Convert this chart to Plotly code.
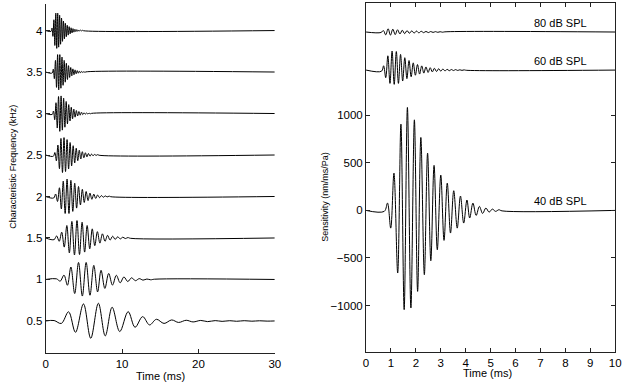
import plotly.graph_objects as go

# ---- left panel: impulse responses by characteristic frequency (kHz) ----
# each trace: times (ms) of successive peaks/troughs and their heights (in kHz units)
cf_levels = [0.5, 1, 1.5, 2, 2.5, 3, 3.5, 4]
cf_labels = ["0.5", "1", "1.5", "2", "2.5", "3", "3.5", "4"]

t_4k = [0.70, 0.825, 0.95, 1.075, 1.20, 1.325, 1.45, 1.575, 1.70, 1.825, 1.95, 2.075,
        2.20, 2.325, 2.45, 2.575, 2.70, 2.825, 2.95, 3.075, 3.20, 3.325, 3.45, 3.575,
        3.70, 3.825, 3.95, 4.075, 4.20, 4.325, 4.45, 4.575, 4.70, 4.825, 4.95]
v_4k = [-0.01, 0.03, -0.07, 0.13, -0.18, 0.21, -0.215, 0.21, -0.20, 0.185, -0.165, 0.15,
        -0.13, 0.115, -0.10, 0.088, -0.075, 0.064, -0.055, 0.047, -0.04, 0.033, -0.028, 0.023,
        -0.019, 0.016, -0.013, 0.011, -0.009, 0.007, -0.006, 0.005, -0.004, 0.003, -0.002]

t_3k5 = [0.85, 0.993, 1.136, 1.279, 1.421, 1.564, 1.707, 1.85, 1.993, 2.136, 2.279, 2.421,
         2.564, 2.707, 2.85, 2.993, 3.136, 3.279, 3.421, 3.564, 3.707, 3.85, 3.993, 4.136,
         4.279, 4.421, 4.564, 4.707, 4.85, 4.993, 5.136, 5.279]
v_3k5 = [-0.012, 0.035, -0.08, 0.14, -0.185, 0.21, -0.215, 0.21, -0.195, 0.18, -0.16, 0.14,
         -0.122, 0.105, -0.09, 0.077, -0.065, 0.055, -0.046, 0.038, -0.032, 0.026, -0.021, 0.017,
         -0.014, 0.011, -0.009, 0.007, -0.005, 0.004, -0.003, 0.002]

t_3k = [0.85, 1.017, 1.183, 1.35, 1.517, 1.683, 1.85, 2.017, 2.183, 2.35, 2.517, 2.683,
        2.85, 3.017, 3.183, 3.35, 3.517, 3.683, 3.85, 4.017, 4.183, 4.35, 4.517, 4.683,
        4.85, 5.017, 5.183, 5.35, 5.517, 5.683, 5.85, 6.017]
v_3k = [-0.012, 0.03, -0.075, 0.13, -0.175, 0.205, -0.215, 0.212, -0.20, 0.185, -0.165, 0.145,
        -0.125, 0.107, -0.09, 0.076, -0.064, 0.053, -0.044, 0.036, -0.03, 0.024, -0.02, 0.016,
        -0.013, 0.01, -0.008, 0.006, -0.005, 0.004, -0.003, 0.002]

t_2k5 = [1.0, 1.2, 1.4, 1.6, 1.8, 2.0, 2.2, 2.4, 2.6, 2.8, 3.0, 3.2, 3.4, 3.6, 3.8, 4.0,
         4.2, 4.4, 4.6, 4.8, 5.0, 5.2, 5.4, 5.6, 5.8, 6.0, 6.2, 6.4, 6.6, 6.8, 7.0]
v_2k5 = [-0.015, 0.03, -0.07, 0.12, -0.165, 0.20, -0.212, 0.21, -0.20, 0.186, -0.168, 0.15,
         -0.13, 0.112, -0.096, 0.082, -0.069, 0.058, -0.048, 0.04, -0.033, 0.027, -0.022, 0.018,
         -0.014, 0.011, -0.009, 0.007, -0.005, 0.004, -0.003]

t_2k = [1.05, 1.3, 1.55, 1.8, 2.05, 2.3, 2.55, 2.8, 3.05, 3.3, 3.55, 3.8, 4.05, 4.3, 4.55,
        4.8, 5.05, 5.3, 5.55, 5.8, 6.05, 6.3, 6.55, 6.8, 7.05, 7.3, 7.55, 7.8, 8.05, 8.3, 8.55]
v_2k = [-0.018, 0.03, -0.06, 0.105, -0.15, 0.185, -0.205, 0.21, -0.205, 0.195, -0.18, 0.16,
        -0.14, 0.12, -0.102, 0.086, -0.072, 0.06, -0.05, 0.041, -0.034, 0.028, -0.023, 0.018,
        -0.014, 0.011, -0.009, 0.007, -0.005, 0.004, -0.003]

t_1k5 = [1.1, 1.43, 1.77, 2.1, 2.43, 2.77, 3.1, 3.43, 3.77, 4.1, 4.43, 4.77, 5.1, 5.43, 5.77,
         6.1, 6.43, 6.77, 7.1, 7.43, 7.77, 8.1, 8.43, 8.77, 9.1, 9.43, 9.77, 10.1, 10.43,
         10.77, 11.1]
v_1k5 = [-0.02, 0.025, -0.04, 0.07, -0.11, 0.15, -0.18, 0.20, -0.205, 0.21, -0.20, 0.19,
         -0.17, 0.15, -0.13, 0.11, -0.092, 0.076, -0.062, 0.05, -0.04, 0.032, -0.026, 0.021,
         -0.017, 0.014, -0.011, 0.009, -0.007, 0.005, -0.004]

t_1k = [1.4, 1.9, 2.4, 2.85, 3.3, 3.8, 4.3, 4.8, 5.3, 5.8, 6.3, 6.8, 7.25, 7.75, 8.25, 8.75,
        9.25, 9.75, 10.25, 10.75, 11.25, 11.75, 12.25, 12.75, 13.25, 13.75, 14.25]
v_1k = [0.008, -0.02, 0.052, -0.07, 0.15, -0.17, 0.205, -0.20, 0.205, -0.19, 0.17, -0.15,
        0.11, -0.108, 0.072, -0.068, 0.05, -0.04, 0.03, -0.025, 0.02, -0.015, 0.01, -0.008,
        0.005, -0.004, 0.003]

t_0k5 = [1.1, 2.05, 3.0, 3.9, 4.95, 5.9, 6.9, 7.8, 8.7, 9.7, 10.8, 11.7, 12.7, 13.6, 14.5,
         15.5, 16.5, 17.4, 18.4, 19.3, 20.3, 21.2, 22.2, 23.1, 24.1, 25.0, 26.0, 27.0, 28.0,
         29.0]
v_0k5 = [0.005, -0.03, 0.11, -0.137, 0.205, -0.209, 0.213, -0.18, 0.165, -0.128, 0.112,
         -0.076, 0.052, -0.048, 0.02, -0.03, 0.012, -0.018, 0.008, -0.012, 0.006, -0.008,
         0.004, -0.005, 0.003, -0.004, 0.003, -0.003, 0.002, -0.002]

left_times = [t_0k5, t_1k, t_1k5, t_2k, t_2k5, t_3k, t_3k5, t_4k]
left_vals = [v_0k5, v_1k, v_1k5, v_2k, v_2k5, v_3k, v_3k5, v_4k]

# ---- right panel: sensitivity (nm/ms/Pa) at three levels ----
spl_labels = ["40 dB SPL", "60 dB SPL", "80 dB SPL"]
spl_offsets = [0, 1475, 1875]

t_40 = [0.73, 0.86, 0.99, 1.12, 1.27, 1.40, 1.53, 1.66, 1.80, 1.94, 2.07, 2.20, 2.34, 2.47,
        2.60, 2.73, 2.86, 3.00, 3.13, 3.26, 3.39, 3.52, 3.66, 3.79, 3.92, 4.05, 4.16, 4.29,
        4.42, 4.55, 4.68, 4.81, 4.94, 5.07, 5.20, 5.33, 5.46]
v_40 = [-10, 77, -186, 392, -658, 907, -1043, 1082, -1026, 952, -851, 767, -676, 602,
        -529, 473, -413, 371, -315, 287, -238, 207, -186, 151, -133, 109, -80, 77,
        -53, 42, -32, 25, -18, 14, -10, 7, -5]

t_60 = [0.62, 0.705, 0.79, 0.875, 0.96, 1.045, 1.13, 1.215, 1.30, 1.385, 1.47, 1.555, 1.64,
        1.725, 1.81, 1.895, 1.98, 2.065, 2.15, 2.235, 2.32, 2.405, 2.49, 2.575, 2.66, 2.745,
        2.83, 2.915, 3.0, 3.085, 3.17, 3.255, 3.34, 3.425, 3.51, 3.595, 3.68, 3.765, 3.85,
        3.935, 4.02]
v_60 = [-12, 45, -80, 150, -140, 200, -150, 195, -140, 165, -115, 130, -90, 100, -70, 76,
        -54, 58, -42, 44, -32, 33, -25, 25, -19, 19, -15, 14, -11, 11, -9, 8, -7, 6, -5, 5,
        -4, 3, -3, 2, -2]

t_80 = [0.60, 0.695, 0.79, 0.885, 0.98, 1.075, 1.17, 1.265, 1.36, 1.455, 1.55, 1.645, 1.74,
        1.835, 1.93, 2.025, 2.12, 2.215, 2.31, 2.405, 2.50, 2.595, 2.69, 2.785, 2.88, 2.975,
        3.07, 3.165]
v_80 = [-5, 15, -30, 35, -33, 30, -27, 24, -21, 19, -17, 15, -13, 12, -11, 10, -9, 8, -7,
        6, -6, 5, -4, 4, -3, 3, -2, 2]

right_times = [t_40, t_60, t_80]
right_vals = [v_40, v_60, v_80]

W, H = 632, 383
FONT = "Liberation Sans, Arial, Helvetica, sans-serif"

fig = go.Figure()

# левая панель
for cf, ts, vs in zip(cf_levels, left_times, left_vals):
    fig.add_trace(go.Scatter(
        x=[0.0] + ts + [30.0],
        y=[cf] + [cf + v for v in vs] + [cf],
        mode="lines",
        line=dict(color="black", width=1, shape="spline", smoothing=1),
        xaxis="x", yaxis="y",
        showlegend=False, hoverinfo="skip",
    ))

# правая панель
for off, ts, vs in zip(spl_offsets, right_times, right_vals):
    fig.add_trace(go.Scatter(
        x=[0.0] + ts + [10.0],
        y=[off] + [off + v for v in vs] + [off],
        mode="lines",
        line=dict(color="black", width=1, shape="spline", smoothing=1),
        xaxis="x2", yaxis="y2",
        showlegend=False, hoverinfo="skip",
    ))

for lab, off in zip(spl_labels, spl_offsets):
    fig.add_annotation(
        text=lab, x=6.65, y=off + 100, xref="x2", yref="y2",
        xanchor="left", yanchor="middle", showarrow=False,
        font=dict(size=11, color="black", family=FONT),
    )

axis_common = dict(
    showgrid=False, zeroline=False, showline=True, linecolor="#222", linewidth=1,
    ticks="inside", ticklen=4, tickcolor="#222",
    tickfont=dict(size=11.5, color="black", family=FONT),
)

fig.update_layout(
    width=W, height=H,
    margin=dict(l=0, r=0, t=0, b=0),
    paper_bgcolor="white", plot_bgcolor="white",
    xaxis=dict(domain=[43.3 / W, 275.7 / W], range=[0, 30],
               tickvals=[0, 10, 20, 30], anchor="y", **axis_common),
    yaxis=dict(domain=[(H - 353.3) / H, (H - 4) / H], range=[0.11, 4.32],
               tickvals=cf_levels, ticktext=cf_labels, anchor="x", **axis_common),
    xaxis2=dict(domain=[368.3 / W, 621 / W], range=[0, 10], dtick=1,
                mirror="ticks", anchor="y2", **axis_common),
    yaxis2=dict(domain=[(H - 351.7) / H, (H - 3) / H], range=[-1485, 2180],
                tickvals=[-1000, -500, 0, 500, 1000], mirror="ticks", anchor="x2",
                **axis_common),
)

# подписи осей
titles = [
    ("Characteristic Frequency (kHz)", 10, 167, -90, 9),
    ("Sensitivity (nm/ms/Pa)", 327, 196.5, -90, 9),
    ("Time (ms)", 159.7, 376, 0, 11),
    ("Time (ms)", 492, 373, 0, 11),
]
for text, px, py, ang, size in titles:
    fig.add_annotation(
        text=text, x=px / W, y=(H - py) / H, xref="paper", yref="paper",
        xanchor="center", yanchor="middle", textangle=ang, showarrow=False,
        font=dict(size=size, color="black", family=FONT),
    )

# убираем отступ body, чтобы картинка начиналась с (0, 0)
fig.write_html(
    "out.html",
    config={"displayModeBar": False},
    post_script="document.body.style.margin='0px';document.body.style.overflow='hidden';",
)
